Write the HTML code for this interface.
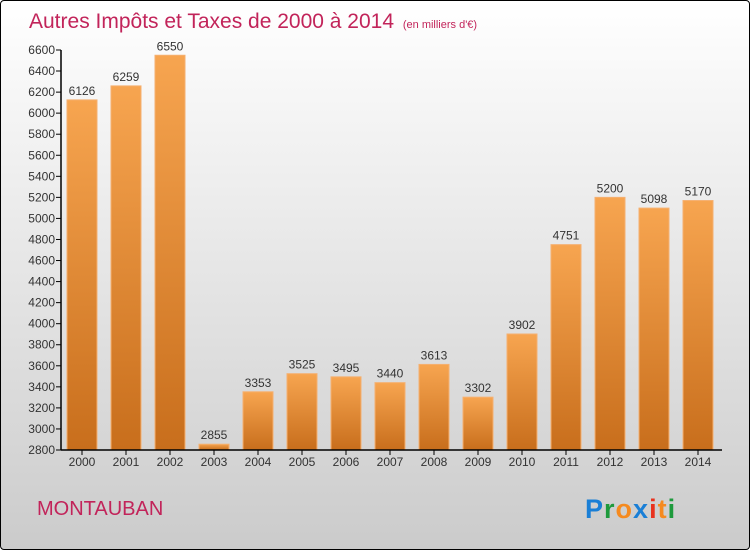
<!DOCTYPE html>
<html><head><meta charset="utf-8"><style>
body{margin:0}
#c{width:748px;height:548px;border:1px solid #000;border-radius:4px;background:linear-gradient(#fff,#f2f2f2 25%,#d6d6d6 80%,#cbcbcb);position:relative;overflow:hidden;font-family:"Liberation Sans",sans-serif}
</style></head><body>
<div id="c">
<svg id="s" width="748" height="548" font-family="Liberation Sans, sans-serif">
<defs><linearGradient id="g" x1="0" y1="0" x2="0" y2="1"><stop offset="0" stop-color="#f7a550"/><stop offset="1" stop-color="#c86e1c"/></linearGradient></defs>
<text x="28" y="27" font-size="21" fill="#c2245a">Autres Impôts et Taxes de 2000 à 2014 <tspan font-size="11" dx="3">(en milliers d'€)</tspan></text>
<text x="36" y="514" font-size="20" fill="#c2245a">MONTAUBAN</text>
<text x="584" y="517" font-size="27" font-weight="bold" letter-spacing="1"><tspan fill="#1a7fd6">P</tspan><tspan fill="#1e9a3c">r</tspan><tspan fill="#f58a1f">o</tspan><tspan fill="#1a7fd6">x</tspan><tspan fill="#e8321e">i</tspan><tspan fill="#f58a1f">t</tspan><tspan fill="#1e9a3c">i</tspan></text>
<g id="plot"></g>
</svg></div>
<script>
const categories=["2000","2001","2002","2003","2004","2005","2006","2007","2008","2009","2010","2011","2012","2013","2014"];
const values=[6126,6259,6550,2855,3353,3525,3495,3440,3613,3302,3902,4751,5200,5098,5170];
const yTicks=[2800,3000,3200,3400,3600,3800,4000,4200,4400,4600,4800,5000,5200,5400,5600,5800,6000,6200,6400,6600];
const NS="http://www.w3.org/2000/svg";
const g=document.getElementById('plot');
const y0=449,y1=49,vmin=2800,vmax=6600,x0=60;
const y=v=>y0-(v-vmin)/(vmax-vmin)*(y0-y1);
const x=i=>81+i*44;
function el(t,a){const e=document.createElementNS(NS,t);for(const k in a)e.setAttribute(k,a[k]);g.appendChild(e);return e;}
yTicks.forEach(t=>{
 const l=el('line',{x1:x0-5,x2:x0,y1:y(t),y2:y(t),stroke:'#000'});
 
 
 const tx=el('text',{x:x0-6,y:y(t)+4,'text-anchor':'end','font-size':12,fill:'#333'});
 tx.textContent=t;
 
 
});
categories.forEach((c,i)=>{
 const r=el('rect',{x:x(i)-15,y:y(values[i]),width:30,height:y0-y(values[i]),fill:'url(#g)',stroke:'#f5b070','stroke-width':1});
 
 
 const v=el('text',{x:x(i),y:y(values[i])-5,'text-anchor':'middle','font-size':12,fill:'#333'});
 v.textContent=values[i];
 
 
 const tk=el('line',{x1:x(i),x2:x(i),y1:y0,y2:y0+5,stroke:'#000'});
 
 
 const t=el('text',{x:x(i),y:y0+16,'text-anchor':'middle','font-size':12,fill:'#333'});
 t.textContent=c;
 
 
});
const ya=el('line',{x1:x0,x2:x0,y1:y1,y2:y0,stroke:'#000','stroke-width':1.5});


const xa=el('line',{x1:x0,x2:721,y1:y0,y2:y0,stroke:'#000','stroke-width':1.5});


</script>
</body></html>
